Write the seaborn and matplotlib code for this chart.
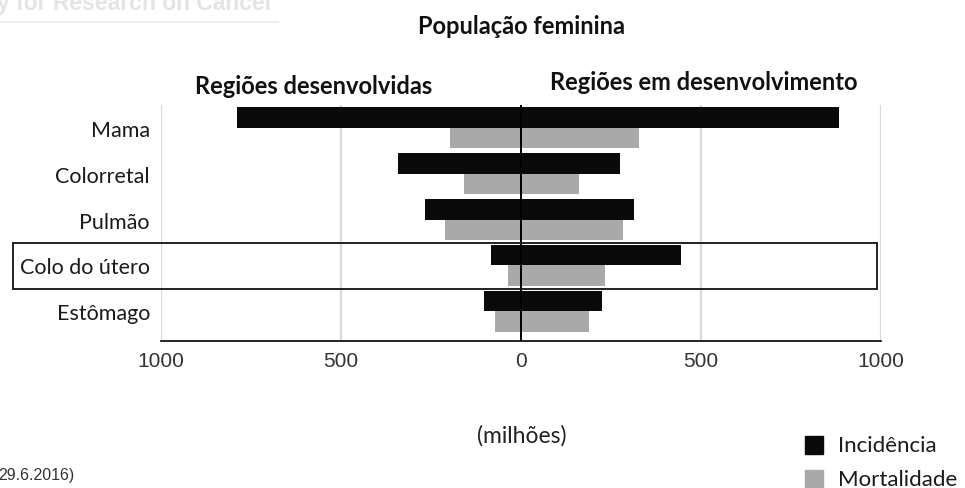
import matplotlib
matplotlib.use('Agg')
import numpy as np
import pandas as pd
import matplotlib.pyplot as plt
import seaborn as sns
from matplotlib.patches import Rectangle

# dados (milhões)
categories = ['Mama', 'Colorretal', 'Pulmão', 'Colo do útero', 'Estômago']
dev_incidence = [789, 342, 267, 84, 102]      # regiões desenvolvidas
dev_mortality = [197, 158, 211, 36, 71]
ding_incidence = [883, 275, 314, 445, 224]    # regiões em desenvolvimento
ding_mortality = [328, 161, 283, 233, 189]
measures = ['Incidência', 'Mortalidade']
xticks = [-1000, -500, 0, 500, 1000]
xticklabels = ['1000', '500', '0', '500', '1000']

sns.set_style('white')
plt.rcParams['font.family'] = ['Lato', 'DejaVu Sans']

W, H = 965, 489
def fx(px):
    return px / W
def fy(py):
    return 1 - py / H

left_df = pd.DataFrame({
    'cancer': categories * 2,
    'medida': [measures[0]] * 5 + [measures[1]] * 5,
    'valor': [-v for v in dev_incidence] + [-v for v in dev_mortality],
})
right_df = pd.DataFrame({
    'cancer': categories * 2,
    'medida': [measures[0]] * 5 + [measures[1]] * 5,
    'valor': ding_incidence + ding_mortality,
})
pal = {'Incidência': '#0a0a0a', 'Mortalidade': '#a9a9a9'}

fig = plt.figure(figsize=(9.65, 4.89), dpi=100)
ax = fig.add_axes([fx(161), fy(342), fx(881) - fx(161), fy(106) - fy(342)])

for df in (left_df, right_df):
    sns.barplot(data=df, x='valor', y='cancer', hue='medida', order=categories,
                hue_order=measures, palette=pal, orient='h', width=0.895,
                linewidth=0, legend=False, ax=ax, zorder=3)

ax.set_xlim(-1000, 1000)
ax.set_ylim(4.65, -0.5)
ax.set_axisbelow(True)
ax.set_xticks(xticks)
ax.set_xticklabels(xticklabels, fontfamily='Liberation Sans', fontsize=15, color='#333333')
ax.xaxis.grid(True, color='#d9d9d9', lw=1.6)
ax.yaxis.grid(False)
ax.axvline(0, color='black', lw=1.4, zorder=6)
ax.set_xlabel('')
ax.set_ylabel('')
for s in ['top', 'right', 'left']:
    ax.spines[s].set_visible(False)
ax.spines['bottom'].set_color('black')
ax.spines['bottom'].set_linewidth(1.2)
ax.tick_params(axis='x', direction='out', length=4, width=1.2, color='black', pad=3)
ax.tick_params(axis='y', length=0, pad=8, labelsize=15.5, labelcolor='#1a1a1a')

# títulos
fig.text(fx(521), fy(26), 'População feminina', ha='center', va='center',
         fontsize=17, fontweight='bold', color='#111111')
fig.text(fx(314), fy(86), 'Regiões desenvolvidas', ha='center', va='center',
         fontsize=17, fontweight='bold', color='#111111')
fig.text(fx(704), fy(83), 'Regiões em desenvolvimento', ha='center', va='center',
         fontsize=17, fontweight='bold', color='#111111')
fig.text(fx(522), fy(436), '(milhões)', ha='center', va='center',
         fontsize=16.5, color='#222222')

# destaque colo do útero
fig.patches.append(Rectangle((fx(13), fy(290)), fx(877) - fx(13), fy(244) - fy(290),
                             transform=fig.transFigure, fill=False,
                             edgecolor='#111111', lw=1.3, zorder=10))

# legenda
for i, m in enumerate(measures):
    yc = [446, 480][i]
    fig.patches.append(Rectangle((fx(805), fy(yc + 9)), fx(18), 18 / H,
                                 transform=fig.transFigure, color=pal[m], zorder=10))
    fig.text(fx(838), fy(yc), m, ha='left', va='center', fontsize=16, color='#1a1a1a')

# restos da fonte cortada
fig.text(fx(-3), fy(10), 'y for Research on Cancer', ha='left', va='baseline',
         fontfamily='Liberation Sans', fontweight='bold', fontsize=16.5, color='#e4e4e4')
fig.add_artist(plt.Line2D([0, fx(278)], [fy(23), fy(23)], color='#eeeeee', lw=1.5,
                          transform=fig.transFigure))
fig.text(fx(-2), fy(476), '29.6.2016)', ha='left', va='center',
         fontfamily='Liberation Sans', fontsize=11.5, color='#333333')

fig.savefig('out.png', dpi=100)
